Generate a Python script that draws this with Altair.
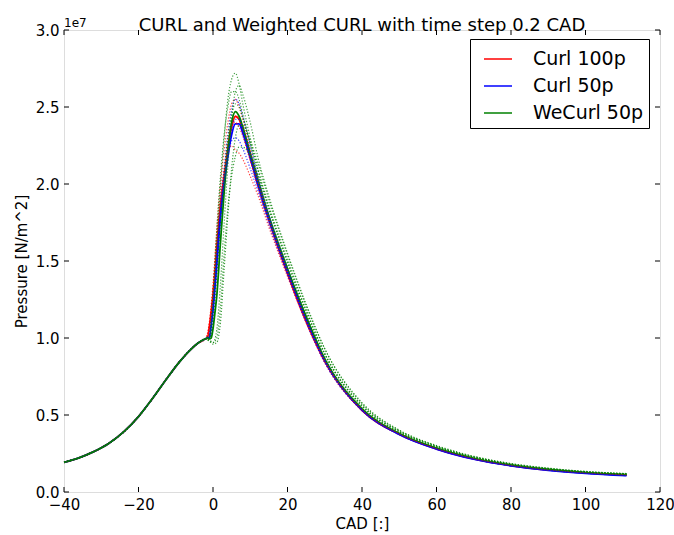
import altair as alt
import pandas as pd

# ---------------- data (pressure in units of 1e7 N/m^2) ----------------
COMP_X = [-40, -36, -32, -28, -24, -20, -16, -12, -9, -6, -4, -2]
COMP_Y = [0.193, 0.222, 0.262, 0.315, 0.39, 0.49, 0.615, 0.75, 0.845, 0.925, 0.967, 0.995]

COMB_X = [-1.5, -1, -0.5, 0, 0.5, 1, 2, 3, 4, 5, 6, 7, 8, 10, 12, 15, 20, 25, 30,
          40, 50, 60, 70, 80, 90, 100, 111]
CURL100 = [1.0, 1.07, 1.17, 1.28, 1.42, 1.58, 1.86, 2.05, 2.23, 2.37, 2.44, 2.42, 2.35,
           2.17, 2.0, 1.77, 1.42, 1.11, 0.85, 0.53, 0.375, 0.28, 0.215, 0.172, 0.143, 0.124, 0.11]
CURL50 = [1.0, 1.0, 1.08, 1.18, 1.32, 1.47, 1.78, 2.0, 2.18, 2.32, 2.39, 2.39, 2.33,
          2.17, 2.0, 1.77, 1.43, 1.12, 0.855, 0.532, 0.374, 0.279, 0.213, 0.17, 0.141, 0.121, 0.106]
WECURL50 = [1.0, 0.995, 1.0, 1.06, 1.16, 1.27, 1.62, 1.95, 2.22, 2.4, 2.47, 2.44, 2.37,
            2.2, 2.03, 1.79, 1.45, 1.14, 0.865, 0.54, 0.38, 0.285, 0.219, 0.175, 0.146, 0.126, 0.112]

DOT_X = [-2, -1, 0, 1, 2, 3, 4, 5, 6, 7, 8, 10, 12, 15, 20, 25, 30, 40, 50, 60, 70, 80, 90, 100, 111]
RED_RUNS = [
    [0.995, 1.05, 1.3, 1.64, 1.9, 2.08, 2.2, 2.25, 2.22, 2.2, 2.16, 2.05, 1.93, 1.72, 1.4, 1.1, 0.84, 0.53, 0.375, 0.28, 0.215, 0.172, 0.143, 0.124, 0.11],
    [0.995, 1.1, 1.35, 1.7, 2.0, 2.22, 2.4, 2.52, 2.55, 2.5, 2.42, 2.22, 2.03, 1.78, 1.43, 1.12, 0.855, 0.535, 0.378, 0.282, 0.216, 0.173, 0.144, 0.125, 0.111],
    [0.995, 1.08, 1.3, 1.62, 1.9, 2.1, 2.28, 2.38, 2.4, 2.37, 2.31, 2.15, 1.98, 1.75, 1.41, 1.1, 0.845, 0.53, 0.376, 0.281, 0.215, 0.172, 0.143, 0.124, 0.11],
]
BLUE_RUNS = [
    [0.995, 1.0, 1.2, 1.5, 1.85, 2.1, 2.32, 2.48, 2.55, 2.52, 2.44, 2.25, 2.05, 1.8, 1.45, 1.13, 0.86, 0.535, 0.376, 0.28, 0.214, 0.171, 0.142, 0.122, 0.107],
    [0.995, 1.02, 1.22, 1.55, 1.82, 2.02, 2.18, 2.28, 2.3, 2.28, 2.23, 2.1, 1.96, 1.74, 1.41, 1.1, 0.84, 0.528, 0.372, 0.278, 0.213, 0.17, 0.141, 0.121, 0.106],
    [0.995, 1.0, 1.15, 1.45, 1.78, 2.0, 2.2, 2.35, 2.42, 2.42, 2.36, 2.2, 2.02, 1.78, 1.43, 1.12, 0.85, 0.532, 0.374, 0.279, 0.213, 0.17, 0.141, 0.121, 0.106],
]
GREEN_RUNS = [
    [0.995, 1.0, 1.2, 1.6, 1.98, 2.3, 2.55, 2.68, 2.72, 2.65, 2.52, 2.3, 2.1, 1.84, 1.48, 1.16, 0.89, 0.555, 0.39, 0.293, 0.226, 0.18, 0.15, 0.13, 0.116],
    [0.995, 0.98, 0.96, 0.97, 1.1, 1.45, 1.8, 2.1, 2.3, 2.38, 2.38, 2.28, 2.14, 1.9, 1.54, 1.21, 0.93, 0.58, 0.402, 0.302, 0.232, 0.185, 0.155, 0.134, 0.12],
    [0.995, 0.98, 0.97, 1.05, 1.35, 1.75, 2.12, 2.42, 2.6, 2.64, 2.58, 2.4, 2.18, 1.92, 1.55, 1.22, 0.93, 0.575, 0.4, 0.3, 0.23, 0.184, 0.154, 0.133, 0.119],
    [0.995, 1.0, 1.1, 1.4, 1.75, 2.05, 2.3, 2.45, 2.52, 2.5, 2.43, 2.27, 2.1, 1.86, 1.5, 1.18, 0.9, 0.56, 0.39, 0.293, 0.225, 0.18, 0.15, 0.13, 0.116],
    [0.995, 0.99, 0.97, 1.0, 1.2, 1.55, 1.85, 2.05, 2.18, 2.24, 2.24, 2.18, 2.06, 1.84, 1.5, 1.18, 0.9, 0.565, 0.395, 0.296, 0.228, 0.182, 0.152, 0.131, 0.117],
    [0.995, 1.02, 1.3, 1.7, 2.05, 2.32, 2.5, 2.6, 2.6, 2.55, 2.45, 2.26, 2.06, 1.8, 1.45, 1.13, 0.87, 0.545, 0.383, 0.288, 0.221, 0.176, 0.147, 0.127, 0.113],
]

SERIES = ["Curl 100p", "Curl 50p", "WeCurl 50p"]
COLORS = ["#ff0000", "#0000ff", "#008000"]
X_TICKS = [-40, -20, 0, 20, 40, 60, 80, 100, 120]
Y_TICKS = [0.0, 0.5, 1.0, 1.5, 2.0, 2.5, 3.0]

W, H = 596, 462
FONT = "DejaVu Sans"

# ---------------- tables ----------------
rows = []
for name, vals in zip(SERIES, [CURL100, CURL50, WECURL50]):
    for i, (x, y) in enumerate(zip(COMP_X + COMB_X, COMP_Y + vals)):
        rows.append({"series": name, "cad": x, "p": y, "order": i})
solid = pd.DataFrame(rows)

drows = []
for name, runs in zip(SERIES, [RED_RUNS, BLUE_RUNS, GREEN_RUNS]):
    for r, vals in enumerate(runs):
        for i, (x, y) in enumerate(zip(COMP_X + DOT_X, COMP_Y + vals)):
            drows.append({"series": name, "run": f"{name}-{r}", "cad": x, "p": y, "order": i})
dotted = pd.DataFrame(drows)

xscale = alt.Scale(domain=[-40, 120], nice=False, zero=False)
yscale = alt.Scale(domain=[0, 3.0], nice=False, zero=False)

X = alt.X("cad:Q", scale=xscale,
          axis=alt.Axis(values=X_TICKS, title="CAD [:]", grid=False, domain=False, ticks=False,
                        labelFontSize=15, labelFont=FONT, labelColor="black", labelPadding=5,
                        labelFlush=False, labelOverlap=False,
                        titleFontSize=15, titleFont=FONT, titleFontWeight="normal",
                        titleColor="black", titlePadding=4, format="d"))
Y = alt.Y("p:Q", scale=yscale,
          axis=alt.Axis(values=Y_TICKS, title="Pressure [N/m^2]", grid=False, domain=False, ticks=False,
                        labelFontSize=15, labelFont=FONT, labelColor="black", labelPadding=5,
                        labelFlush=False, labelOverlap=False,
                        titleFontSize=15, titleFont=FONT, titleFontWeight="normal",
                        titleColor="black", titlePadding=6, format=".1f"))

dot_layers = []
for name, col in zip(SERIES, COLORS):
    dot_layers.append(
        alt.Chart(dotted[dotted.series == name])
        .mark_line(color=col, strokeWidth=1.2, strokeDash=[1.2, 1.8], opacity=0.75,
                   interpolate="monotone")
        .encode(x=alt.X("cad:Q", scale=xscale), y=alt.Y("p:Q", scale=yscale),
                detail="run:N", order="order:Q")
    )

solid_layer = (
    alt.Chart(solid)
    .mark_line(strokeWidth=1.8, interpolate="monotone")
    .encode(
        x=X, y=Y, order="order:Q",
        color=alt.Color("series:N", sort=SERIES,
                        scale=alt.Scale(domain=SERIES, range=COLORS),
                        legend=alt.Legend(title=None, orient="none", legendX=406, legendY=9,
                                          symbolType="stroke", symbolStrokeWidth=1.5,
                                          symbolSize=784, symbolOffset=8,
                                          labelFontSize=19, labelFont=FONT,
                                          labelColor="black", labelOffset=20, rowPadding=2,
                                          padding=5, strokeColor="black", fillColor="white",
                                          cornerRadius=0)),
    )
)

# inward ticks (matplotlib style) on all four sides
TX = 5 * 160 / W
TY = 5 * 3.0 / H
tick_rows = []
for t in X_TICKS:
    tick_rows.append({"x": t, "x2": t, "y": 0.0, "y2": TY})
    tick_rows.append({"x": t, "x2": t, "y": 3.0, "y2": 3.0 - TY})
for t in Y_TICKS:
    tick_rows.append({"x": -40, "x2": -40 + TX, "y": t, "y2": t})
    tick_rows.append({"x": 120, "x2": 120 - TX, "y": t, "y2": t})
ticks = alt.Chart(pd.DataFrame(tick_rows)).mark_rule(color="black", strokeWidth=1).encode(
    x=alt.X("x:Q", scale=xscale), x2="x2:Q", y=alt.Y("y:Q", scale=yscale), y2="y2:Q")

offset_text = alt.Chart(pd.DataFrame({"t": ["1e7"]})).mark_text(
    align="left", baseline="alphabetic", fontSize=12, font=FONT, color="black", dy=-3
).encode(x=alt.datum(-40, scale=xscale), y=alt.datum(3.0, scale=yscale), text="t:N")

chart = (
    alt.layer(solid_layer, *dot_layers, ticks, offset_text)
    .properties(
        width=W, height=H,
        title=alt.TitleParams("CURL and Weighted CURL with time step 0.2 CAD", fontSize=18,
                              font=FONT, fontWeight="normal", color="black", anchor="middle",
                              offset=0, dy=18),
        autosize=alt.AutoSizeParams(type="none"),
        padding={"left": 64, "top": 30, "right": 14, "bottom": 43},
    )
    .configure_view(stroke="black", strokeWidth=1)
    .configure(background="white")
)

chart.save("out.html", embed_options={"renderer": "svg", "actions": False})
